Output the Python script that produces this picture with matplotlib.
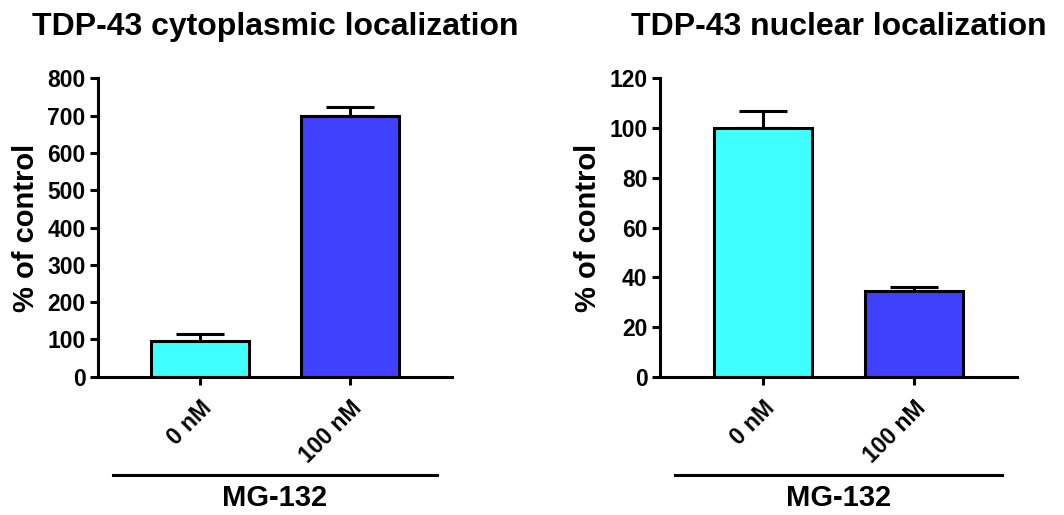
#!/usr/bin/env python3
"""TDP-43 localization after MG-132 treatment, two bar panels."""

import matplotlib

matplotlib.use("Agg")
import matplotlib.pyplot as plt
import matplotlib.transforms as mtransforms

plt.rcParams["font.family"] = ["Liberation Sans", "DejaVu Sans"]
plt.rcParams["font.weight"] = "bold"

DOSES = ["0 nM", "100 nM"]
GROUP_LABEL = "MG-132"
COLORS = ["#40ffff", "#4040ff"]

TITLES = ["TDP-43 cytoplasmic localization", "TDP-43 nuclear localization"]
MEANS = [[95, 700], [100, 34.5]]
ERRORS = [[20, 23], [7, 1.5]]
YMAX = [800, 120]
YSTEP = [100, 20]

LW = 2.2


def draw_panel(ax, title, means, errors, ymax, ystep):
    x = list(range(len(DOSES)))
    ax.bar(x, means, width=0.65, color=COLORS, edgecolor="black", linewidth=LW, zorder=2)
    ax.errorbar(
        x, means, yerr=[[0] * len(errors), errors], fmt="none", ecolor="black",
        elinewidth=LW, capsize=17, capthick=LW, zorder=1,
    )
    ax.set_xlim(-0.68, 1.68)
    ax.set_ylim(0, ymax)
    ax.set_yticks(range(0, ymax + 1, ystep))
    ax.set_xticks(x)
    ax.set_xticklabels(DOSES, rotation=45, ha="right", rotation_mode="anchor")
    for spine in ["top", "right"]:
        ax.spines[spine].set_visible(False)
    for spine in ["left", "bottom"]:
        ax.spines[spine].set_linewidth(LW)
    ax.spines["left"].set_bounds(0, ymax)
    ax.tick_params(axis="both", width=LW, length=6, labelsize=16.5, direction="out")
    ax.tick_params(axis="x", pad=8)
    ax.tick_params(axis="y", pad=3)
    ax.set_ylabel("% of control", fontsize=21, fontweight="bold", labelpad=5)
    ax.set_title(title, fontsize=23, fontweight="bold", pad=31)

    trans = mtransforms.blended_transform_factory(ax.transData, ax.transAxes)
    ax.plot([-0.58, 1.58], [-0.328, -0.328], color="black", lw=LW, transform=trans, clip_on=False)
    ax.text(0.5, -0.408, GROUP_LABEL, transform=trans, ha="center", va="center",
            fontsize=21, fontweight="bold")


def main():
    fig = plt.figure(figsize=(10.64, 5.15), dpi=100)
    ax1 = fig.add_axes([0.0921, 0.2685, 0.3327, 0.5794])
    ax2 = fig.add_axes([0.6203, 0.2685, 0.3355, 0.5794])
    for ax, title, means, errors, ymax, ystep in zip([ax1, ax2], TITLES, MEANS, ERRORS, YMAX, YSTEP):
        draw_panel(ax, title, means, errors, ymax, ystep)
    fig.savefig("out.png", dpi=100)
    plt.close(fig)


if __name__ == "__main__":
    main()
